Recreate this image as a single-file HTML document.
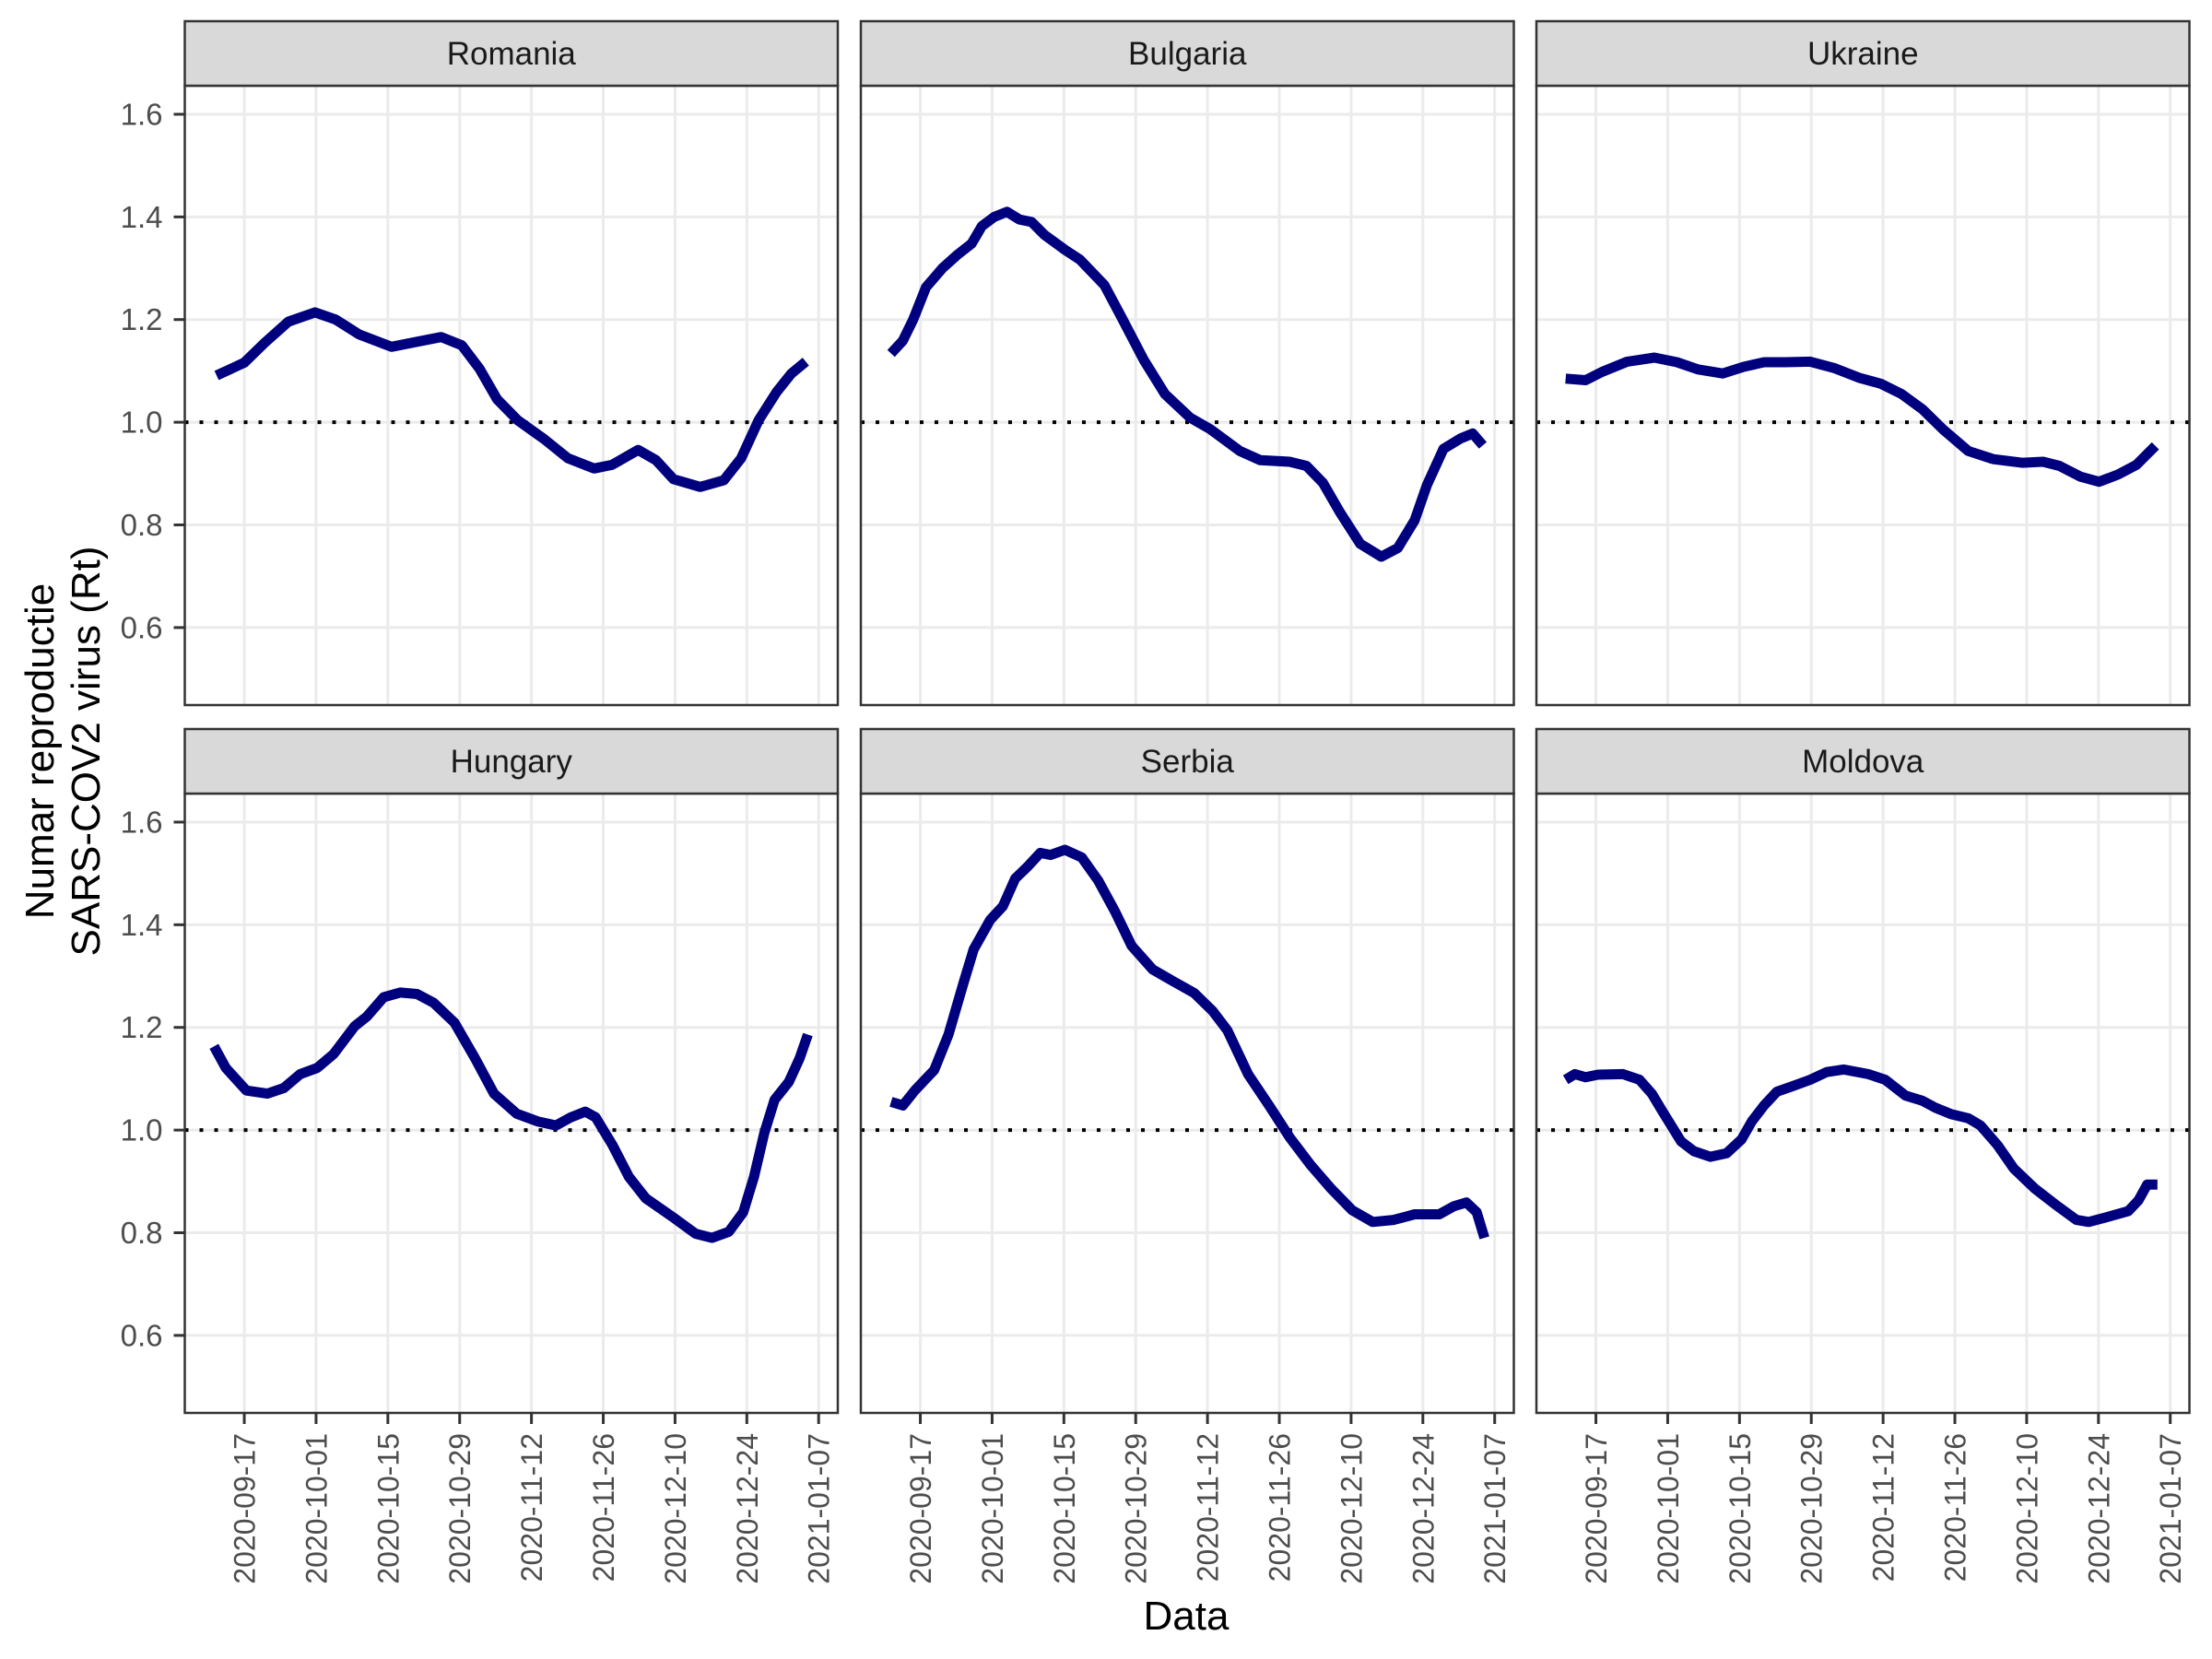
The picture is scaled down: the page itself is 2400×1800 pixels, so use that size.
<!DOCTYPE html>
<html><head><meta charset="utf-8">
<style>
html,body{margin:0;padding:0;background:#fff;}
svg{display:block;font-family:"Liberation Sans",sans-serif;}
</style></head>
<body>
<svg id="chart" width="2400" height="1800" viewBox="0 0 2400 1800" xmlns="http://www.w3.org/2000/svg">
  <rect width="2400" height="1800" fill="#fff"/>
  <g id="panels"></g>
  <text x="1287" y="1768" font-size="44" text-anchor="middle" fill="#000">Data</text>
  <g transform="translate(0,815) rotate(-90)">
    <text x="0" y="58" font-size="44" text-anchor="middle" fill="#000">Numar reproductie</text>
    <text x="0" y="108" font-size="44" text-anchor="middle" fill="#000">SARS-COV2 virus (Rt)</text>
  </g>
</svg>
<script>
// ---- data: day offsets from 2020-09-17 and Rt values ----
const countries = ["Romania","Bulgaria","Ukraine","Hungary","Serbia","Moldova"];
const xTickLabels = ["2020-09-17","2020-10-01","2020-10-15","2020-10-29","2020-11-12","2020-11-26","2020-12-10","2020-12-24","2021-01-07"];
const xTickDays = [0,14,28,42,56,70,84,98,112];
const yTickLabels = ["0.6","0.8","1.0","1.2","1.4","1.6"];
const yTickValues = [0.6,0.8,1.0,1.2,1.4,1.6];

const romaniaDays = [-5.4,0,4,8.6,13.8,17.8,22.4,28.7,33.8,38.4,42.4,45.9,49.3,53.3,58.5,63.1,68.2,71.7,76.8,80.3,83.7,88.9,93.5,96.9,100.3,103.8,106.7,109.5];
const romaniaRt = [1.091,1.116,1.155,1.196,1.214,1.20,1.171,1.147,1.157,1.166,1.15,1.104,1.045,1.004,0.967,0.93,0.91,0.917,0.946,0.926,0.889,0.874,0.887,0.93,1.004,1.059,1.095,1.118];

const bulgariaDays = [-5.7,-3.4,-1.4,1.1,4.3,7.1,10,12,14.4,16.9,19.3,21.7,24.2,28.2,31.1,35.9,39.2,43.6,47.7,52.6,56.6,62.3,66.3,72,75.3,78.5,81.8,85.8,89.9,93.1,96.4,98.8,102,105.3,107.7,109.7];
const bulgariaRt = [1.134,1.159,1.20,1.263,1.30,1.325,1.348,1.382,1.40,1.41,1.395,1.39,1.365,1.336,1.317,1.267,1.205,1.121,1.055,1.009,0.986,0.944,0.926,0.923,0.915,0.882,0.825,0.763,0.738,0.755,0.809,0.878,0.948,0.968,0.978,0.955];

const ukraineDays = [-5.9,-2,1.2,6.1,11.4,15.8,19.9,24.7,28.8,32.8,36.9,41.8,46.6,51.5,55.6,59.6,63.7,67.7,72.6,77.5,83.1,87.2,90.4,94.5,98.1,101.8,105.4,109.1];
const ukraineRt = [1.085,1.082,1.098,1.118,1.126,1.117,1.103,1.095,1.108,1.117,1.117,1.118,1.105,1.086,1.075,1.055,1.025,0.986,0.944,0.928,0.921,0.923,0.915,0.894,0.884,0.898,0.917,0.954];

const hungaryDays = [-5.9,-3.6,0.4,4.5,7.7,10.9,14.2,17.4,21.5,23.9,27.2,30.4,33.7,36.9,41,45,48.7,53.1,57.2,60.8,63.7,66.5,68.5,71.8,75,78.3,83.9,88,91.2,94.5,97.3,99.4,101.4,103.4,106.2,108.3,109.9];
const hungaryRt = [1.163,1.121,1.077,1.071,1.082,1.109,1.121,1.148,1.202,1.221,1.259,1.268,1.265,1.248,1.209,1.14,1.071,1.032,1.017,1.009,1.025,1.036,1.025,0.971,0.909,0.867,0.828,0.798,0.79,0.802,0.84,0.909,0.994,1.059,1.094,1.14,1.186];

const serbiaDays = [-5.7,-3.4,-1,2.7,5.5,8.4,10.4,13.6,16.1,18.5,20.9,23.4,25.4,28.2,31.5,34.7,38,41.2,45.3,49.3,53.4,57,59.9,63.9,68,72,76.1,80.1,84.2,88.2,92.3,96.4,101.2,104.1,106.5,108.5,110];
const serbiaRt = [1.055,1.048,1.078,1.117,1.186,1.286,1.352,1.409,1.436,1.49,1.513,1.54,1.536,1.546,1.531,1.486,1.425,1.359,1.313,1.29,1.267,1.232,1.194,1.109,1.048,0.986,0.932,0.886,0.844,0.821,0.825,0.836,0.836,0.852,0.859,0.84,0.79];

const moldovaDays = [-5.9,-4.1,-2,0.4,5.3,8.5,10.9,13,16.6,19.1,22.3,25.5,28.4,30.4,32.8,35.3,38.5,41.8,45,48.3,53.1,56.4,60.4,63.7,66.1,69.3,72.6,75,78.3,81.5,85.6,89.6,93.7,96.1,100.2,103.8,105.8,107.5,109.5];
const moldovaRt = [1.098,1.109,1.103,1.108,1.109,1.098,1.071,1.036,0.978,0.959,0.948,0.955,0.982,1.017,1.048,1.075,1.086,1.098,1.113,1.118,1.109,1.098,1.067,1.057,1.044,1.031,1.023,1.009,0.971,0.925,0.886,0.855,0.825,0.821,0.832,0.842,0.863,0.894,0.894];

const seriesDays = [romaniaDays,bulgariaDays,ukraineDays,hungaryDays,serbiaDays,moldovaDays];
const seriesRt = [romaniaRt,bulgariaRt,ukraineRt,hungaryRt,serbiaRt,moldovaRt];
const referenceRt = 1.0;

// ---- layout ----
const NS = "http://www.w3.org/2000/svg";
const panelLefts = [200.5, 934, 1667];
const panelW = 708.5;
const rowStripTops = [23, 791];
const stripH = 70;
const plotH = 672;
const yMin = 0.449, yMax = 1.6556;
const dayMin = -11.6, pxPerDay = 5.564;

function xScale(left, d){ return left + (d - dayMin) * pxPerDay; }
function yScale(top, v){ return top + plotH - (v - yMin) / (yMax - yMin) * plotH; }
function mk(tag, attrs, parent){
  const e = document.createElementNS(NS, tag);
  for (const k in attrs) e.setAttribute(k, attrs[k]);
  parent.appendChild(e); return e;
}
const root = document.getElementById("panels");

countries.forEach((name, i) => {
  const col = i % 3, row = Math.floor(i / 3);
  const left = panelLefts[col];
  const stripTop = rowStripTops[row];
  const top = stripTop + stripH;
  const g = mk("g", {}, root);
  
  

  // plot background & grid
  mk("rect", {x:left, y:top, width:panelW, height:plotH, fill:"#fff"}, g);
  const grid = mk("g", {stroke:"#EBEBEB", "stroke-width":3}, g);
  
  
  xTickDays.forEach(d => {
    const x = xScale(left, d);
    mk("line", {x1:x, x2:x, y1:top, y2:top+plotH}, grid);
  });
  yTickValues.forEach(v => {
    const y = yScale(top, v);
    mk("line", {x1:left, x2:left+panelW, y1:y, y2:y}, grid);
  });

  // reference line
  const ry = yScale(top, referenceRt);
  const ref = mk("line", {x1:left, x2:left+panelW, y1:ry, y2:ry, stroke:"#000", "stroke-width":4, "stroke-dasharray":"4 12"}, g);
  
  

  // series
  const days = seriesDays[i], vals = seriesRt[i];
  let dStr = "";
  days.forEach((d, j) => { dStr += (j ? "L" : "M") + xScale(left, d).toFixed(1) + "," + yScale(top, vals[j]).toFixed(1); });
  const path = mk("path", {d:dStr, fill:"none", stroke:"#00007F", "stroke-width":11, "stroke-linejoin":"round", "stroke-linecap":"butt"}, g);
  
  

  // border
  mk("rect", {x:left, y:top, width:panelW, height:plotH, fill:"none", stroke:"#333", "stroke-width":2.5}, g);

  // strip
  const strip = mk("rect", {x:left, y:stripTop, width:panelW, height:stripH, fill:"#D9D9D9", stroke:"#333", "stroke-width":2.5}, g);
  
  
  const st = mk("text", {x:left+panelW/2, y:stripTop+stripH/2+12, "font-size":35, "text-anchor":"middle", fill:"#1A1A1A"}, g);
  st.textContent = name;
  
  

  // y axis (left column)
  if (col === 0) {
    const ya = mk("g", {}, g);
    
    
    yTickValues.forEach((v, k) => {
      const y = yScale(top, v);
      mk("line", {x1:left-12, x2:left, y1:y, y2:y, stroke:"#333", "stroke-width":3}, ya);
      const t = mk("text", {x:left-24, y:y+11.5, "font-size":33, "text-anchor":"end", fill:"#4D4D4D"}, ya);
      t.textContent = yTickLabels[k];
      
      
    });
  }
  // x axis (bottom row)
  if (row === 1) {
    const xa = mk("g", {}, g);
    
    
    xTickDays.forEach((d, k) => {
      const x = xScale(left, d);
      mk("line", {x1:x, x2:x, y1:top+plotH, y2:top+plotH+12, stroke:"#333", "stroke-width":3}, xa);
      const t = mk("text", {x:0, y:0, "font-size":32, "text-anchor":"end", fill:"#4D4D4D",
        transform:"translate(" + (x + 11.5) + "," + (top + plotH + 22) + ") rotate(-90)"}, xa);
      t.textContent = xTickLabels[k];
      
      
    });
  }
});
</script>
</body></html>
